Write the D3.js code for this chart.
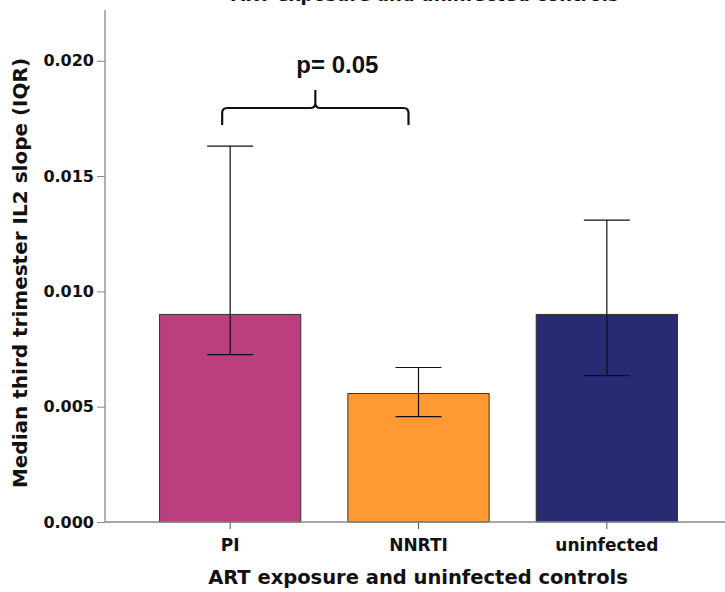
<!DOCTYPE html>
<html>
<head>
<meta charset="utf-8">
<script src="https://cdn.jsdelivr.net/npm/d3@7"></script>
<style>
  html, body { margin: 0; padding: 0; background: #fff; }
  svg { display: block; }
</style>
</head>
<body>
<svg id="chart" width="725" height="592"></svg>
<script>
// Median third-trimester IL2 slope by ART exposure group, with IQR whiskers
const categories = ["PI", "NNRTI", "uninfected"];
const medians = [0.0090, 0.00557, 0.0090];
const iqrLow = [0.00726, 0.00457, 0.00635];
const iqrHigh = [0.0163, 0.0067, 0.01309];
const barColors = ["#BA3F7C", "#FF9933", "#282A72"];
const yTicks = [0, 0.005, 0.010, 0.015, 0.020];
const pLabel = "p= 0.05";

const svg = d3.select("#chart");
const font = "'DejaVu Sans', Verdana, sans-serif";

const x = d3.scaleBand().domain(categories).range([136, 701])
  .paddingInner(0.25).paddingOuter(0.125);
const y = d3.scaleLinear().domain([0, 0.0222]).range([522, 10]);

// chart title (runs off the top edge)
svg.append("text")
  .attr("x", 425).attr("y", 1)
  .attr("text-anchor", "middle")
  .attr("font-family", font).attr("font-weight", "bold").attr("font-size", 18)
  .attr("fill", "#111")
  .text("ART exposure and uninfected controls");

// bars
svg.selectAll("rect.bar").data(categories).join("rect")
  .attr("class", "bar")
  .attr("x", d => x(d))
  .attr("width", x.bandwidth())
  .attr("y", (d, i) => y(medians[i]))
  .attr("height", (d, i) => y(0) - y(medians[i]))
  .attr("fill", (d, i) => barColors[i])
  .attr("stroke", "#333").attr("stroke-width", 1);

// IQR whiskers
const capHalf = 23;
const eb = svg.append("g").attr("stroke", "#111").attr("stroke-width", 1.2).attr("fill", "none");
categories.forEach((c, i) => {
  const cx = x(c) + x.bandwidth() / 2;
  eb.append("line").attr("x1", cx).attr("x2", cx).attr("y1", y(iqrLow[i])).attr("y2", y(iqrHigh[i]));
  eb.append("line").attr("x1", cx - capHalf).attr("x2", cx + capHalf).attr("y1", y(iqrLow[i])).attr("y2", y(iqrLow[i]));
  eb.append("line").attr("x1", cx - capHalf).attr("x2", cx + capHalf).attr("y1", y(iqrHigh[i])).attr("y2", y(iqrHigh[i]));
});

// y axis
const yAxis = svg.append("g").attr("transform", "translate(105,0)")
  .call(d3.axisLeft(y).tickValues(yTicks).tickFormat(d3.format(".3f")).tickSize(8).tickPadding(3));
yAxis.select(".domain").remove();
yAxis.selectAll(".tick line").attr("stroke", "#888");
yAxis.selectAll(".tick text")
  .attr("font-family", font).attr("font-weight", "bold").attr("font-size", 16).attr("fill", "#111");
svg.append("line").attr("x1", 105).attr("x2", 105).attr("y1", y(0.0222)).attr("y2", y(0))
  .attr("stroke", "#888").attr("stroke-width", 1.3);

// x axis
const xAxis = svg.append("g").attr("transform", `translate(0,${y(0)})`)
  .call(d3.axisBottom(x).tickSize(7).tickPadding(10));
xAxis.select(".domain").remove();
xAxis.selectAll(".tick line").attr("stroke", "#555");
xAxis.selectAll(".tick text")
  .attr("font-family", font).attr("font-weight", "bold").attr("font-size", 17).attr("fill", "#111");
svg.append("line").attr("x1", 105).attr("x2", 725).attr("y1", y(0)).attr("y2", y(0))
  .attr("stroke", "#888").attr("stroke-width", 1.3);

// axis titles
svg.append("text")
  .attr("x", 418).attr("y", 584)
  .attr("text-anchor", "middle")
  .attr("font-family", font).attr("font-weight", "bold").attr("font-size", 19.5).attr("fill", "#111")
  .text("ART exposure and uninfected controls");
svg.append("text")
  .attr("transform", "translate(27,273) rotate(-90)")
  .attr("text-anchor", "middle")
  .attr("font-family", font).attr("font-weight", "bold").attr("font-size", 20).attr("fill", "#111")
  .text("Median third trimester IL2 slope (IQR)");

// significance bracket between PI and NNRTI
const bx0 = x("PI") + x.bandwidth() / 2 - 8;
const bx1 = x("NNRTI") + x.bandwidth() / 2 - 10;
const bmid = (bx0 + bx1) / 2;
const by = 108, byLeg = 125, byTip = 90, r = 5;
const path = d3.path();
path.moveTo(bx0, byLeg);
path.lineTo(bx0, by + r);
path.quadraticCurveTo(bx0, by, bx0 + r, by);
path.lineTo(bmid - r, by);
path.quadraticCurveTo(bmid, by, bmid, by - r);
path.lineTo(bmid, byTip);
path.moveTo(bmid, by - r);
path.quadraticCurveTo(bmid, by, bmid + r, by);
path.lineTo(bx1 - r, by);
path.quadraticCurveTo(bx1, by, bx1, by + r);
path.lineTo(bx1, byLeg);
svg.append("path").attr("d", path.toString())
  .attr("fill", "none").attr("stroke", "#111").attr("stroke-width", 2.2);

svg.append("text")
  .attr("x", bmid + 22).attr("y", 73)
  .attr("text-anchor", "middle")
  .attr("font-family", "'Liberation Sans', Arial, sans-serif").attr("font-weight", "bold").attr("font-size", 24)
  .attr("fill", "#111")
  .text(pLabel);
</script>
</body>
</html>
